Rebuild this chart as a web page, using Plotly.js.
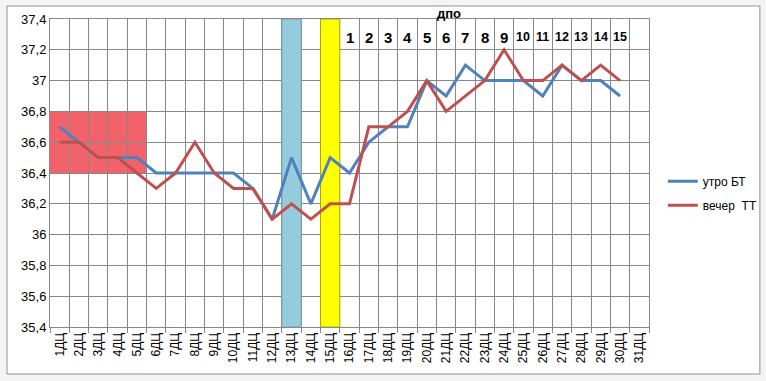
<!DOCTYPE html>
<html>
<head>
<meta charset="utf-8">
<script src="https://cdn.plot.ly/plotly-3.0.1.min.js"></script>
<style>html,body{margin:0;padding:0;background:#f4f4f4;}#chart{width:766px;height:381px;}</style>
</head>
<body>
<div id="chart"></div>
<script>
const days = ['1ДЦ','2ДЦ','3ДЦ','4ДЦ','5ДЦ','6ДЦ','7ДЦ','8ДЦ','9ДЦ','10ДЦ','11ДЦ','12ДЦ','13ДЦ','14ДЦ','15ДЦ','16ДЦ','17ДЦ','18ДЦ','19ДЦ','20ДЦ','21ДЦ','22ДЦ','23ДЦ','24ДЦ','25ДЦ','26ДЦ','27ДЦ','28ДЦ','29ДЦ','30ДЦ','31ДЦ'];
const morning = [36.7,36.6,36.5,36.5,36.5,36.4,36.4,36.4,36.4,36.4,36.3,36.1,36.5,36.2,36.5,36.4,36.6,36.7,36.7,37.0,36.9,37.1,37.0,37.0,37.0,36.9,37.1,37.0,37.0,36.9];
const evening = [36.6,36.6,36.5,36.5,36.4,36.3,36.4,36.6,36.4,36.3,36.3,36.1,36.2,36.1,36.2,36.2,36.7,36.7,36.8,37.0,36.8,36.9,37.0,37.2,37.0,37.0,37.1,37.0,37.1,37.0];
const dpoLabels = ['1','2','3','4','5','6','7','8','9','10','11','12','13','14','15'];
const dpoDays = ['16ДЦ','17ДЦ','18ДЦ','19ДЦ','20ДЦ','21ДЦ','22ДЦ','23ДЦ','24ДЦ','25ДЦ','26ДЦ','27ДЦ','28ДЦ','29ДЦ','30ДЦ'];
const yTickVals = [35.4,35.6,35.8,36.0,36.2,36.4,36.6,36.8,37.0,37.2,37.4];
const yTickText = ['35,4','35,6','35,8','36','36,2','36,4','36,6','36,8','37','37,2','37,4'];
const blueBandDay = '13ДЦ';
const yellowBandDay = '15ДЦ';
const boxFirstDay = '1ДЦ', boxLastDay = '5ДЦ', boxLow = 36.4, boxHigh = 36.8;

const font = 'Liberation Sans, Arial, sans-serif';
const traces = [
  {x: days.slice(0, morning.length), y: morning, name: 'утро БТ', type: 'scatter', mode: 'lines',
   line: {color: '#4F81BD', width: 3}, legendgroup: 'a'},
  {x: days.slice(0, evening.length), y: evening, name: 'вечер  ТТ', type: 'scatter', mode: 'lines',
   line: {color: '#C0504D', width: 3}, legendgroup: 'b'}
];

const bi = days.indexOf(blueBandDay), yi = days.indexOf(yellowBandDay);
const shapes = [
  {type: 'rect', xref: 'paper', yref: 'paper', x0: -0.0718, x1: 1.185, y0: -0.153, y1: 1.042,
   fillcolor: '#ffffff', line: {color: '#b4b4b4', width: 1.5}, layer: 'below'},
  {type: 'rect', xref: 'x', yref: 'y', x0: days.indexOf(boxFirstDay) - 0.5, x1: days.indexOf(boxLastDay) + 0.5,
   y0: boxLow, y1: boxHigh, fillcolor: '#F2626B', line: {width: 0}, layer: 'below'},
  {type: 'rect', xref: 'x', yref: 'y', x0: bi - 0.5, x1: bi + 0.5, y0: 35.4, y1: 37.4,
   fillcolor: '#93CDDD', line: {color: '#7f9fae', width: 1}, layer: 'between'},
  {type: 'rect', xref: 'x', yref: 'y', x0: yi - 0.5, x1: yi + 0.5, y0: 35.4, y1: 37.4,
   fillcolor: '#FFFF00', line: {color: '#a8a800', width: 1}, layer: 'between'}
];

const annotations = dpoLabels.map((t, i) => ({
  x: days.indexOf(dpoDays[i]), y: 37.28, xref: 'x', yref: 'y', yanchor: 'middle', xanchor: 'center',
  text: '<b>' + t + '</b>', showarrow: false,
  font: {family: font, size: t.length > 1 ? 12.5 : 15, color: '#000'}
}));
annotations.push({x: 0.666, y: 1.018, xref: 'paper', yref: 'paper', yanchor: 'middle', xanchor: 'center',
  text: '<b>дпо</b>', showarrow: false, font: {family: font, size: 13, color: '#000'}});

const layout = {
  width: 766, height: 381,
  margin: {l: 50, r: 117, t: 19, b: 54, autoexpand: false},
  paper_bgcolor: '#f4f4f4', plot_bgcolor: 'rgba(0,0,0,0)',
  font: {family: font, size: 12, color: '#000'},
  xaxis: {type: 'category', categoryorder: 'array', categoryarray: days, range: [-0.5, days.length - 0.5],
    tickson: 'boundaries', ticks: 'outside', ticklen: 5, tickcolor: '#888', tickangle: -90,
    showgrid: true, gridcolor: '#888', gridwidth: 1, showline: true, linecolor: '#888', mirror: true,
    tickfont: {family: font, size: 12, color: '#000'}, fixedrange: true, zeroline: false, automargin: false},
  yaxis: {range: [35.4, 37.4], tickvals: yTickVals, ticktext: yTickText, showgrid: true, gridcolor: '#888',
    gridwidth: 1, showline: true, linecolor: '#888', mirror: true, zeroline: false, ticks: '', ticklen: 0,
    tickfont: {family: font, size: 13, color: '#000'}, fixedrange: true, automargin: false},
  showlegend: true,
  legend: {x: 1.023, y: 0.52, xanchor: 'left', yanchor: 'top', bgcolor: 'rgba(0,0,0,0)', tracegroupgap: 5,
    font: {family: font, size: 12, color: '#000'}},
  shapes: shapes,
  annotations: annotations
};

Plotly.newPlot('chart', traces, layout, {displayModeBar: false, staticPlot: true});
</script>
</body>
</html>
